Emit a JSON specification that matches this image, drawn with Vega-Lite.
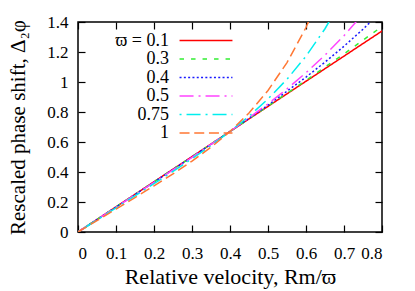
{
  "$schema": "https://vega.github.io/schema/vega-lite/v6.json",
  "width": 304,
  "height": 210,
  "autosize": "none",
  "padding": {"left": 78, "top": 22, "right": 33, "bottom": 59},
  "background": "white",
  "config": {
    "font": "Liberation Serif",
    "view": {"stroke": "black", "strokeWidth": 1.5},
    "axis": {
      "domain": false,
      "grid": false,
      "tickColor": "black",
      "tickWidth": 1.2,
      "tickSize": 7,
      "labelColor": "black",
      "labelFont": "Liberation Serif",
      "titleFont": "Liberation Serif",
      "titleFontWeight": "normal",
      "titleColor": "black"
    }
  },
  "data": {
    "values": [
      {"x": 0, "y": 0, "s": "0.1"},
      {"x": 0.2, "y": 0.335, "s": "0.1"},
      {"x": 0.4, "y": 0.67, "s": "0.1"},
      {"x": 0.6, "y": 1.005, "s": "0.1"},
      {"x": 0.8, "y": 1.34, "s": "0.1"},
      {"x": 0, "y": 0, "s": "0.3"},
      {"x": 0.1, "y": 0.1673, "s": "0.3"},
      {"x": 0.2, "y": 0.3345, "s": "0.3"},
      {"x": 0.3, "y": 0.502, "s": "0.3"},
      {"x": 0.4, "y": 0.67, "s": "0.3"},
      {"x": 0.5, "y": 0.8393, "s": "0.3"},
      {"x": 0.6, "y": 1.0111, "s": "0.3"},
      {"x": 0.7, "y": 1.1872, "s": "0.3"},
      {"x": 0.8, "y": 1.3701, "s": "0.3"},
      {"x": 0, "y": 0, "s": "0.4"},
      {"x": 0.1, "y": 0.1664, "s": "0.4"},
      {"x": 0.2, "y": 0.3329, "s": "0.4"},
      {"x": 0.3, "y": 0.5002, "s": "0.4"},
      {"x": 0.4, "y": 0.67, "s": "0.4"},
      {"x": 0.5, "y": 0.8456, "s": "0.4"},
      {"x": 0.6, "y": 1.0324, "s": "0.4"},
      {"x": 0.65, "y": 1.1324, "s": "0.4"},
      {"x": 0.7, "y": 1.2384, "s": "0.4"},
      {"x": 0.75, "y": 1.352, "s": "0.4"},
      {"x": 0.8, "y": 1.4749, "s": "0.4"},
      {"x": 0, "y": 0, "s": "0.5"},
      {"x": 0.1, "y": 0.1652, "s": "0.5"},
      {"x": 0.2, "y": 0.3307, "s": "0.5"},
      {"x": 0.3, "y": 0.4978, "s": "0.5"},
      {"x": 0.4, "y": 0.67, "s": "0.5"},
      {"x": 0.5, "y": 0.8543, "s": "0.5"},
      {"x": 0.55, "y": 0.9542, "s": "0.5"},
      {"x": 0.6, "y": 1.0617, "s": "0.5"},
      {"x": 0.65, "y": 1.179, "s": "0.5"},
      {"x": 0.7, "y": 1.3089, "s": "0.5"},
      {"x": 0.75, "y": 1.4543, "s": "0.5"},
      {"x": 0, "y": 0, "s": "0.75"},
      {"x": 0.05, "y": 0.0803, "s": "0.75"},
      {"x": 0.1, "y": 0.1607, "s": "0.75"},
      {"x": 0.15, "y": 0.2412, "s": "0.75"},
      {"x": 0.2, "y": 0.3221, "s": "0.75"},
      {"x": 0.25, "y": 0.4042, "s": "0.75"},
      {"x": 0.3, "y": 0.4884, "s": "0.75"},
      {"x": 0.35, "y": 0.5763, "s": "0.75"},
      {"x": 0.4, "y": 0.67, "s": "0.75"},
      {"x": 0.45, "y": 0.7723, "s": "0.75"},
      {"x": 0.5, "y": 0.887, "s": "0.75"},
      {"x": 0.55, "y": 1.0184, "s": "0.75"},
      {"x": 0.6, "y": 1.1722, "s": "0.75"},
      {"x": 0.65, "y": 1.3551, "s": "0.75"},
      {"x": 0.7, "y": 1.5749, "s": "0.75"},
      {"x": 0, "y": 0, "s": "1"},
      {"x": 0.05, "y": 0.0764, "s": "1"},
      {"x": 0.1, "y": 0.1529, "s": "1"},
      {"x": 0.15, "y": 0.2296, "s": "1"},
      {"x": 0.2, "y": 0.3074, "s": "1"},
      {"x": 0.25, "y": 0.3876, "s": "1"},
      {"x": 0.3, "y": 0.4724, "s": "1"},
      {"x": 0.35, "y": 0.565, "s": "1"},
      {"x": 0.4, "y": 0.67, "s": "1"},
      {"x": 0.45, "y": 0.7935, "s": "1"},
      {"x": 0.5, "y": 0.9434, "s": "1"},
      {"x": 0.55, "y": 1.1293, "s": "1"},
      {"x": 0.6, "y": 1.3631, "s": "1"},
      {"x": 0.65, "y": 1.6592, "s": "1"}
    ]
  },
  "layer": [
    {
      "mark": {"type": "line", "strokeWidth": 1.5, "clip": true},
      "encoding": {
        "x": {
          "field": "x", "type": "quantitative",
          "scale": {"domain": [0, 0.8], "nice": false, "zero": false},
          "axis": {"orient": "bottom", "values": [0, 0.1, 0.2, 0.3, 0.4, 0.5, 0.6, 0.7, 0.8], "format": "~g", "ticks": false, "labelFontSize": 17, "labelFont": "Liberation Serif", "labelPadding": 13, "title": "Relative velocity, Rm/ϖ", "titleFontSize": 22, "titlePadding": 5}
        },
        "y": {
          "field": "y", "type": "quantitative",
          "scale": {"domain": [0, 1.4], "nice": false, "zero": false},
          "axis": {"orient": "left", "values": [0, 0.2, 0.4, 0.6, 0.8, 1, 1.2, 1.4], "format": "~g", "ticks": false, "labelFontSize": 17, "labelFont": "Liberation Serif", "labelPadding": 10, "title": "Rescaled phase shift, Δ₂φ", "titleFontSize": 21, "titlePadding": 18}
        },
        "color": {
          "field": "s", "type": "nominal",
          "scale": {"domain": ["0.1", "0.3", "0.4", "0.5", "0.75", "1"], "range": ["#ff0000", "#33ee33", "#1a1aff", "#ff44ff", "#00eeee", "#ff7733"]},
          "legend": {"orient": "none", "legendX": 119, "legendY": 9.5, "title": null, "symbolType": "M-5,0H5", "symbolSize": 112, "symbolStrokeWidth": 1.5, "labelAlign": "right", "labelOffset": -46, "labelFontSize": 18, "labelColor": "black", "labelFont": "Liberation Serif", "rowPadding": 0.5, "padding": 0, "labelExpr": "datum.label == '0.1' ? 'ϖ = 0.1' : datum.label"}
        },
        "strokeDash": {
          "field": "s", "type": "nominal",
          "scale": {"domain": ["0.1", "0.3", "0.4", "0.5", "0.75", "1"], "range": [[1, 0], [4.5, 7], [2, 2.3], [14, 5, 2, 5], [2, 5, 14, 5], [10, 4.7]]},
          "legend": {"orient": "none", "legendX": 119, "legendY": 9.5, "title": null, "symbolType": "M-5,0H5", "symbolSize": 112, "symbolStrokeWidth": 1.5, "labelAlign": "right", "labelOffset": -46, "labelFontSize": 18, "labelColor": "black", "labelFont": "Liberation Serif", "rowPadding": 0.5, "padding": 0, "labelExpr": "datum.label == '0.1' ? 'ϖ = 0.1' : datum.label"}
        }
      }
    },
    {
      "mark": {"type": "line", "strokeOpacity": 0},
      "encoding": {
        "x": {
          "field": "x", "type": "quantitative",
          "scale": {"domain": [0, 0.8], "nice": false, "zero": false},
          "axis": {"orient": "top", "values": [0, 0.1, 0.2, 0.3, 0.4, 0.5, 0.6, 0.7, 0.8], "labels": false, "title": null, "tickSize": 7, "offset": -7}
        },
        "y": {
          "field": "y", "type": "quantitative",
          "scale": {"domain": [0, 1.4], "nice": false, "zero": false},
          "axis": {"orient": "right", "values": [0, 0.2, 0.4, 0.6, 0.8, 1, 1.2, 1.4], "labels": false, "title": null, "tickSize": 7, "offset": -7}
        }
      }
    },
    {
      "mark": {"type": "line", "strokeOpacity": 0},
      "encoding": {
        "x": {
          "field": "x", "type": "quantitative",
          "scale": {"domain": [0, 0.8], "nice": false, "zero": false},
          "axis": {"orient": "bottom", "values": [0, 0.1, 0.2, 0.3, 0.4, 0.5, 0.6, 0.7, 0.8], "labels": false, "title": null, "tickSize": 7, "offset": -7}
        },
        "y": {
          "field": "y", "type": "quantitative",
          "scale": {"domain": [0, 1.4], "nice": false, "zero": false},
          "axis": {"orient": "left", "values": [0, 0.2, 0.4, 0.6, 0.8, 1, 1.2, 1.4], "labels": false, "title": null, "tickSize": 7, "offset": -7}
        }
      }
    }
  ],
  "resolve": {"axis": {"x": "independent", "y": "independent"}}
}
